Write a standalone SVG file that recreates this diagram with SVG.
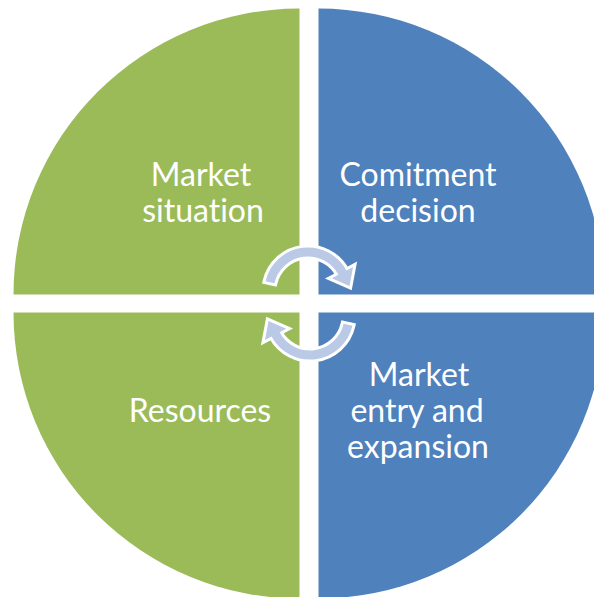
<svg xmlns="http://www.w3.org/2000/svg" width="594" height="597" viewBox="0 0 594 597">
  <style>
    .green { fill: #9BBB59; }
    .blue { fill: #4F81BD; }
    .label { fill: #FFFFFF; font-family: Lato, "Liberation Sans", sans-serif; font-size: 32px; text-anchor: middle; font-variant-ligatures: none; }
    .cycle { fill: #B9C9E6; stroke: #FFFFFF; stroke-width: 6; stroke-linejoin: miter; paint-order: stroke; }
  </style>
  <defs>
    <!-- circular arrow: band around (308,291), arrowhead at the right end -->
    <path id="cycle-arrow" d="M 265.61 281.21 A 43.5 43.5 0 0 1 346.41 270.58 L 353.03 267.06 L 349.47 285.93 L 331.84 278.32 L 338.46 274.80 A 34.5 34.5 0 0 0 274.38 283.24 Z"/>
  </defs>
  <rect width="594" height="597" fill="#FFFFFF"/>

  <g id="market-situation">
    <path class="green" d="M 299.5 294.5 L 13.5 294.5 A 286 286 0 0 1 299.5 8.5 Z"/>
    <text class="label" x="201" y="186">Market</text>
    <text class="label" x="203" y="222">situation</text>
  </g>

  <g id="commitment-decision">
    <path class="blue" d="M 318.5 294.5 L 318.5 8.5 A 286 286 0 0 1 604.5 294.5 Z"/>
    <text class="label" x="418" y="186">Comitment</text>
    <text class="label" x="418" y="222">decision</text>
  </g>

  <g id="resources">
    <path class="green" d="M 299.5 312.5 L 299.5 598.5 A 286 286 0 0 1 13.5 312.5 Z"/>
    <text class="label" x="200" y="422">Resources</text>
  </g>

  <g id="market-entry">
    <path class="blue" d="M 318.5 312.5 L 604.5 312.5 A 286 286 0 0 1 318.5 598.5 Z"/>
    <text class="label" x="419" y="386">Market</text>
    <text class="label" x="417" y="422">entry and</text>
    <text class="label" x="418" y="458">expansion</text>
  </g>

  <g id="connectors">
    <use href="#cycle-arrow" class="cycle"/>
    <use href="#cycle-arrow" class="cycle" transform="rotate(180 309 303.5)"/>
  </g>
</svg>
